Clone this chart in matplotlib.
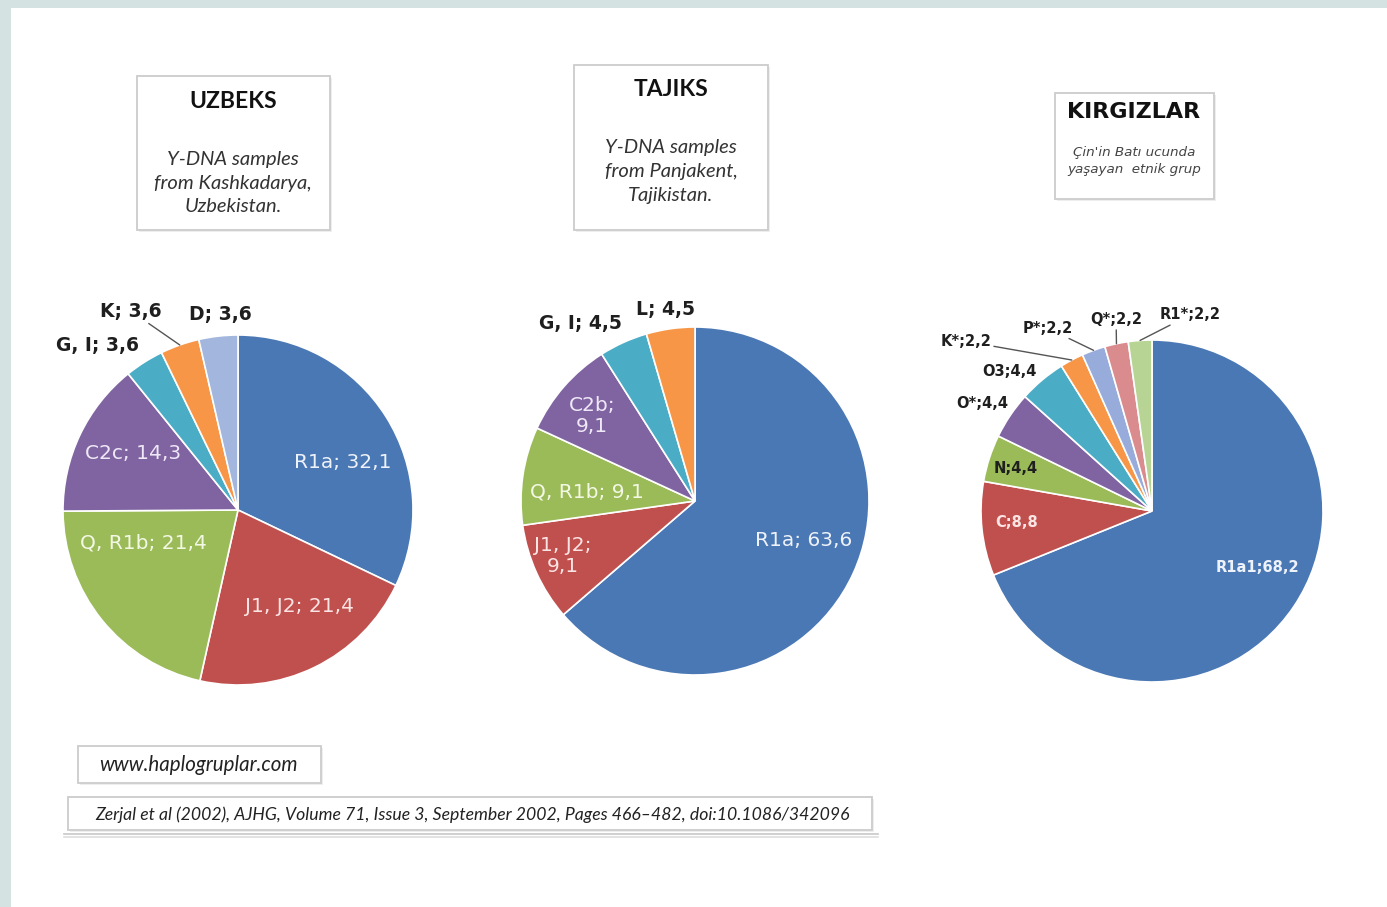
import numpy as np
import matplotlib.pyplot as plt
from matplotlib.patches import Rectangle

W, H = 1387, 907

# data
uz_labels = ["R1a", "J1, J2", "Q, R1b", "C2c", "G, I", "K", "D"]
uz_values = [32.1, 21.4, 21.4, 14.3, 3.6, 3.6, 3.6]
tj_labels = ["R1a", "J1, J2", "Q, R1b", "C2b", "G, I", "L"]
tj_values = [63.6, 9.1, 9.1, 9.1, 4.5, 4.5]
kg_labels = ["R1a1", "C", "N", "O*", "O3", "K*", "P*", "Q*", "R1*"]
kg_values = [68.2, 8.8, 4.4, 4.4, 4.4, 2.2, 2.2, 2.2, 2.2]

blue, red, green, purple = "#4a78b5", "#c0504d", "#9bbb59", "#8064a2"
teal, orange = "#4bacc6", "#f79646"
uz_colors = [blue, red, green, purple, teal, orange, "#a2b6de"]
tj_colors = [blue, red, green, purple, teal, orange]
kg_colors = [blue, red, green, purple, teal, orange, "#98acdc", "#da8b8d", "#b8d494"]


def fmt(v):
    return str(v).replace(".", ",")


def draw_pie(ax, values, colors, center, radius, texts, specs):
    wedges, _ = ax.pie(values, colors=colors, center=center, radius=radius,
                       startangle=90, counterclock=False,
                       wedgeprops=dict(edgecolor="white", linewidth=1.2))
    for w, txt, (f, dx, dy, col, size, weight, leader) in zip(wedges, texts, specs):
        mid = np.deg2rad((w.theta1 + w.theta2) / 2)
        x = center[0] + radius * f * np.cos(mid) + dx
        y = center[1] + radius * f * np.sin(mid) + dy
        kw = dict(ha="center", va="center", color=col, fontsize=size,
                  fontweight=weight, family="DejaVu Sans", linespacing=1.1)
        if leader:
            ex = center[0] + radius * np.cos(mid)
            ey = center[1] + radius * np.sin(mid)
            ax.annotate(txt, xy=(ex, ey), xytext=(x, y),
                        arrowprops=dict(arrowstyle="-", color="#555555", lw=1,
                                        shrinkA=0, shrinkB=0), **kw)
        else:
            ax.text(x, y, txt, **kw)


def box(ax, x0, y0, x1, y1):
    # coordinates given from the top of the picture
    ax.add_patch(Rectangle((x0 + 2, H - y1 - 2), x1 - x0, y1 - y0,
                           facecolor="#eeeeee", edgecolor="none", zorder=1))
    ax.add_patch(Rectangle((x0, H - y1), x1 - x0, y1 - y0,
                           facecolor="white", edgecolor="#cccccc", lw=1.3, zorder=2))


fig = plt.figure(figsize=(W / 100, H / 100), dpi=100)
ax = fig.add_axes([0, 0, 1, 1])

# Uzbeks
in_c = 14.5
out_s = 13.5
out_c = "#1f1f1f"
uz_texts = [f"{l}; {fmt(v)}" for l, v in zip(uz_labels, uz_values)]
uz_specs = [
    (0.65, 9, -13, "#eef2fa", in_c, "normal", False),
    (0.65, 12, 6, "#fbe4e4", in_c, "normal", False),
    (0.60, -13, 33, "#f3f8e4", in_c, "normal", False),
    (0.65, -2, 8, "#efe8f7", in_c, "normal", False),
    (1.15, -33, -5, out_c, out_s, "bold", False),
    (1.15, -40, 9, out_c, out_s, "bold", True),
    (1.15, 5, -4, out_c, out_s, "bold", False),
]
draw_pie(ax, uz_values, uz_colors, (238, H - 510), 175, uz_texts, uz_specs)

# Tajiks
tj_texts = [f"{l}; {fmt(v)}" for l, v in zip(tj_labels, tj_values)]
tj_texts[1] = tj_texts[1].replace("; ", ";\n")
tj_texts[3] = tj_texts[3].replace("; ", ";\n")
tj_specs = [
    (0.66, 4, 8, "#eef2fa", in_c, "normal", False),
    (0.82, -2, 4, "#fbe4e4", in_c, "normal", False),
    (0.63, 0, -7, "#f3f8e4", in_c, "normal", False),
    (0.77, -2, -3, "#efe8f7", in_c, "normal", False),
    (1.12, -34, 0, out_c, out_s, "bold", False),
    (1.12, -2, -1, out_c, out_s, "bold", False),
]
draw_pie(ax, tj_values, tj_colors, (695, H - 501), 174, tj_texts, tj_specs)

# Kirgiz
kg_texts = [f"{l};{fmt(v)}" for l, v in zip(kg_labels, kg_values)]
ks = 10.5
kg_specs = [
    (0.70, 6, 10, "#eef2fa", ks, "bold", False),
    (0.80, 1, 3, "#fbe4e4", ks, "bold", False),
    (0.80, -6, 0, out_c, ks, "bold", False),
    (1.15, -7, -2, out_c, ks, "bold", False),
    (1.15, -16, -11, out_c, ks, "bold", False),
    (1.15, -94, -4, out_c, ks, "bold", True),
    (1.15, -37, -2, out_c, ks, "bold", True),
    (1.15, 5, -1, out_c, ks, "bold", True),
    (1.15, 52, 0, out_c, ks, "bold", True),
]
draw_pie(ax, kg_values, kg_colors, (1152, H - 511), 171, kg_texts, kg_specs)

ax.set_xlim(0, W)
ax.set_ylim(0, H)
ax.set_aspect("auto")
ax.axis("off")

# title boxes
box(ax, 137, 76, 330, 230)
ax.text(233, H - 101, "UZBEKS", ha="center", va="center", fontsize=16.5,
        fontweight="bold", family="Lato", color="#111111", zorder=3)
ax.text(233, H - 183, "Y-DNA samples\nfrom Kashkadarya,\nUzbekistan.", ha="center",
        va="center", fontsize=14.5, style="italic", family="Lato", color="#333333",
        linespacing=1.5, zorder=3)

box(ax, 574, 65, 768, 230)
ax.text(671, H - 89, "TAJIKS", ha="center", va="center", fontsize=16.5,
        fontweight="bold", family="Lato", color="#111111", zorder=3)
ax.text(671, H - 171, "Y-DNA samples\nfrom Panjakent,\nTajikistan.", ha="center",
        va="center", fontsize=14.5, style="italic", family="Lato", color="#333333",
        linespacing=1.5, zorder=3)

box(ax, 1055, 93, 1214, 199)
ax.text(1134, H - 112, "KIRGIZLAR", ha="center", va="center", fontsize=16,
        fontweight="bold", family="DejaVu Sans", color="#111111", zorder=3)
ax.text(1134, H - 161, "Çin'in Batı ucunda\nyaşayan  etnik grup", ha="center",
        va="center", fontsize=9.7, style="italic", family="DejaVu Sans",
        color="#444444", linespacing=1.4, zorder=3)

# source boxes
box(ax, 78, 746, 321, 783)
ax.text(198, H - 765, "www.haplogruplar.com", ha="center", va="center",
        fontsize=14.8, style="italic", family="Lato", color="#222222", zorder=3)
box(ax, 68, 797, 872, 830)
ax.text(472, H - 815, "Zerjal et al (2002), AJHG, Volume 71, Issue 3, September 2002, "
        "Pages 466–482, doi:10.1086/342096", ha="center", va="center",
        fontsize=12.7, style="italic", family="Lato", color="#222222", zorder=3)
ax.plot([64, 878], [H - 834, H - 834], color="#c8c8c8", lw=1.2)
ax.plot([64, 878], [H - 836.5, H - 836.5], color="#dddddd", lw=1.2)

# page border strips
ax.add_patch(Rectangle((0, 0), 11, H, facecolor="#d4e2e2", edgecolor="none", zorder=5))
ax.add_patch(Rectangle((0, H - 8), W, 8, facecolor="#d4e2e2", edgecolor="none", zorder=5))

fig.savefig("out.png", dpi=100)
